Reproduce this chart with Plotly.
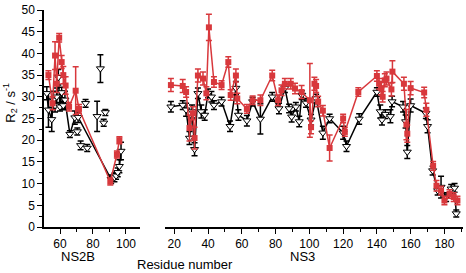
import plotly.graph_objects as go

# ---- NS2B panel ----
ns2b_black_x = [52, 53, 55, 56, 57, 58, 59, 60, 61, 62, 63, 66, 69, 71, 91, 93, 94, 95, 96, 97]
ns2b_black_y = [30.8, 27.0, 24.8, 29.3, 28.0, 30.0, 34.5, 27.7, 31.0, 28.0, 29.3, 21.4, 25.2, 25.3, 11.0, 11.4, 11.8, 12.6, 14.0, 17.5]
ns2b_black_e = [1.5, 4.0, 2.8, 2.0, 1.5, 2.0, 1.8, 1.0, 1.2, 1.0, 2.0, 0.8, 1.5, 1.2, 1.0, 1.0, 0.8, 1.0, 1.5, 2.0]

ns2b_black_iso_x = [70.5, 72.5, 75.5, 76.5, 82.5, 84.5, 86.5, 87.5]
ns2b_black_iso_y = [22.0, 18.8, 28.5, 18.2, 25.5, 36.5, 24.0, 26.4]
ns2b_black_iso_e = [0.8, 1.0, 0.9, 0.8, 3.5, 3.2, 0.8, 0.7]

ns2b_red_x = [53, 55.5, 57, 58, 59.5, 61, 62, 63.4, 65.5, 69.5, 71.5, 90.5, 94.5, 96]
ns2b_red_y = [35.0, 28.5, 39.5, 33.0, 43.6, 38.0, 35.0, 32.6, 27.7, 31.4, 27.2, 10.5, 16.7, 20.0]
ns2b_red_e = [1.0, 1.5, 3.2, 2.0, 1.0, 1.5, 2.0, 2.0, 1.0, 5.5, 1.0, 0.8, 0.8, 0.8]

# ---- NS3 panel ----
ns3_black_x = [18, 25, 27, 29, 30.5, 32, 34, 36, 38, 40, 42, 43.5, 48, 53, 56.5, 58, 63, 66.4, 71, 78,
               82, 85.5, 88, 89.5, 92, 94, 95.5, 98, 101, 104, 108, 112, 120, 122, 129.5, 140, 142, 143, 145, 148,
               149, 155.5, 157, 158, 160, 169, 170, 173, 176, 178, 181, 184, 186, 187]
ns3_black_y = [27.7, 28.1, 27.0, 20.5, 26.6, 17.9, 30.8, 26.6, 25.8, 30.8, 30.0, 28.1, 28.9, 23.2, 32.0, 25.8, 24.5, 28.9, 24.9, 30.0,
               27.3, 32.0, 27.3, 25.4, 27.7, 24.3, 30.4, 28.6, 24.7, 29.6, 21.7, 25.0, 21.7, 18.6, 24.9, 31.1, 26.6, 24.7, 26.0, 25.5,
               28.9, 27.7, 24.3, 17.3, 28.0, 26.2, 23.2, 13.0, 8.4, 9.2, 6.9, 8.8, 9.0, 3.1]
ns3_black_e = [1.2, 1.0, 1.5, 1.5, 1.5, 1.5, 1.2, 1.5, 1.2, 1.0, 1.2, 1.0, 1.0, 1.2, 1.5, 1.2, 1.2, 1.0, 3.5, 1.0,
               1.2, 1.0, 1.0, 1.2, 1.0, 1.2, 1.0, 1.0, 1.2, 1.0, 1.5, 1.0, 1.5, 1.2, 1.2, 1.0, 1.5, 1.2, 1.0, 1.5,
               1.2, 1.2, 1.5, 1.5, 1.5, 1.2, 1.5, 1.0, 1.0, 2.5, 1.0, 1.0, 1.0, 0.8]

ns3_red_x = [18, 25, 27, 29, 31, 32, 34, 37, 39, 40.5, 43.5, 48, 52, 53.4, 56.5, 57.3, 63, 66.4, 71, 78,
             81.5, 83.5, 85.5, 89, 91.5, 95.4, 100.3, 101, 103, 104, 105.2, 108, 112, 120, 121, 129, 140, 141.3, 142.5, 143.4,
             144.7, 145.7, 148.6, 149.2, 156, 157.5, 158, 160, 168, 169.3, 173.3, 175.3, 178, 180, 183, 185.5, 187.7]
ns3_red_y = [32.7, 32.5, 31.1, 22.8, 26.2, 20.5, 34.9, 34.2, 30.8, 46.0, 33.4, 32.7, 38.0, 30.4, 34.9, 29.6, 27.2, 29.2, 29.2, 34.9,
             29.2, 31.5, 33.0, 33.0, 31.9, 31.1, 29.2, 23.0, 33.0, 32.5, 28.9, 26.8, 18.2, 25.0, 21.9, 31.1, 34.8, 33.0, 32.0, 30.0,
             33.8, 34.2, 31.7, 35.8, 33.0, 23.6, 21.5, 32.0, 31.0, 27.0, 14.1, 9.5, 8.4, 6.1, 7.6, 6.9, 6.1]
ns3_red_e = [1.5, 1.5, 1.2, 3.0, 1.5, 2.5, 1.5, 1.5, 1.5, 3.0, 1.2, 1.0, 1.2, 1.2, 1.5, 1.2, 1.0, 1.0, 1.2, 1.2,
             1.2, 1.2, 1.2, 1.2, 1.2, 1.5, 8.5, 1.5, 1.5, 1.5, 1.2, 1.2, 3.0, 1.0, 1.0, 1.0, 1.2, 1.2, 1.5, 1.2,
             1.5, 1.5, 1.5, 2.5, 1.5, 3.5, 2.0, 1.5, 1.2, 1.5, 1.0, 1.2, 1.0, 1.0, 1.0, 1.0, 1.0]

RED = "#d8383c"
BLACK = "#000000"
FONT = "Liberation Sans, Arial, sans-serif"

W, H = 466, 273
ML, MR, MT, MB = 44, 3, 7, 46
PW, PH = W - ML - MR, H - MT - MB


def px(x):
    return (x - ML) / PW


def py(y):
    return (H - MB - y) / PH


def black_trace(x, y, e, xa, mode="lines+markers"):
    return go.Scatter(
        x=x, y=y, xaxis=xa, yaxis="y", mode=mode,
        line=dict(color=BLACK, width=1.5),
        marker=dict(symbol="triangle-down", size=7, color="white",
                    line=dict(color=BLACK, width=1)),
        error_y=dict(type="data", array=e, visible=True, color=BLACK, thickness=1.5, width=3),
        showlegend=False, hoverinfo="skip", cliponaxis=False,
    )


def red_trace(x, y, e, xa):
    return go.Scatter(
        x=x, y=y, xaxis=xa, yaxis="y", mode="lines+markers",
        line=dict(color=RED, width=1.5),
        marker=dict(symbol="square", size=6, color=RED, line=dict(width=0)),
        error_y=dict(type="data", array=e, visible=True, color=RED, thickness=1.5, width=3),
        showlegend=False, hoverinfo="skip", cliponaxis=False,
    )


fig = go.Figure()
fig.add_trace(black_trace(ns2b_black_x, ns2b_black_y, ns2b_black_e, "x"))
fig.add_trace(black_trace(ns2b_black_iso_x, ns2b_black_iso_y, ns2b_black_iso_e, "x", mode="markers"))
fig.add_trace(red_trace(ns2b_red_x, ns2b_red_y, ns2b_red_e, "x"))
fig.add_trace(black_trace(ns3_black_x, ns3_black_y, ns3_black_e, "x2"))
fig.add_trace(red_trace(ns3_red_x, ns3_red_y, ns3_red_e, "x2"))

tickfont = dict(family=FONT, size=12, color="black")
xcommon = dict(showgrid=False, zeroline=False, showline=True, linecolor="black", linewidth=1.5,
               ticks="outside", ticklen=5, tickwidth=1.2, tickcolor="black", tickfont=tickfont,
               anchor="y", dtick=20, tick0=0)

fig.update_layout(
    width=W, height=H,
    margin=dict(l=ML, r=MR, t=MT, b=MB),
    plot_bgcolor="white", paper_bgcolor="white",
    xaxis=dict(domain=[0, px(140)], range=[50.3, 108.5],
               minor=dict(dtick=10, ticks="outside", ticklen=3, tickcolor="black", tickwidth=1.2),
               **xcommon),
    xaxis2=dict(domain=[px(165), 1], range=[14.5, 191],
                minor=dict(dtick=10, ticks="outside", ticklen=3, tickcolor="black", tickwidth=1.2),
                **xcommon),
    yaxis=dict(range=[0, 50], dtick=5, showgrid=False, zeroline=False, showline=True,
               linecolor="black", linewidth=1.5, ticks="outside", ticklen=5, tickwidth=1.2,
               tickcolor="black", tickfont=tickfont, anchor="x",
               minor=dict(dtick=2.5, ticks="outside", ticklen=3, tickcolor="black", tickwidth=1.2)),
    font=dict(family=FONT, color="black"),
)

ann_font = dict(family=FONT, size=13, color="black")
fig.add_annotation(x=px(10), y=py(101), xref="paper", yref="paper", text="R<sub>2</sub> / s<sup>-1</sup>",
                   textangle=-90, showarrow=False, font=ann_font, xanchor="center", yanchor="middle")
fig.add_annotation(x=px(77.5), y=py(257), xref="paper", yref="paper", text="NS2B",
                   showarrow=False, font=ann_font, xanchor="center", yanchor="middle")
fig.add_annotation(x=px(302.5), y=py(257), xref="paper", yref="paper", text="NS3",
                   showarrow=False, font=ann_font, xanchor="center", yanchor="middle")
fig.add_annotation(x=px(185), y=py(265), xref="paper", yref="paper", text="Residue number",
                   showarrow=False, font=ann_font, xanchor="center", yanchor="middle")

fig.write_html("out.html", config={"displayModeBar": False},
               post_script="document.body.style.margin='0';document.body.style.overflow='hidden';")
